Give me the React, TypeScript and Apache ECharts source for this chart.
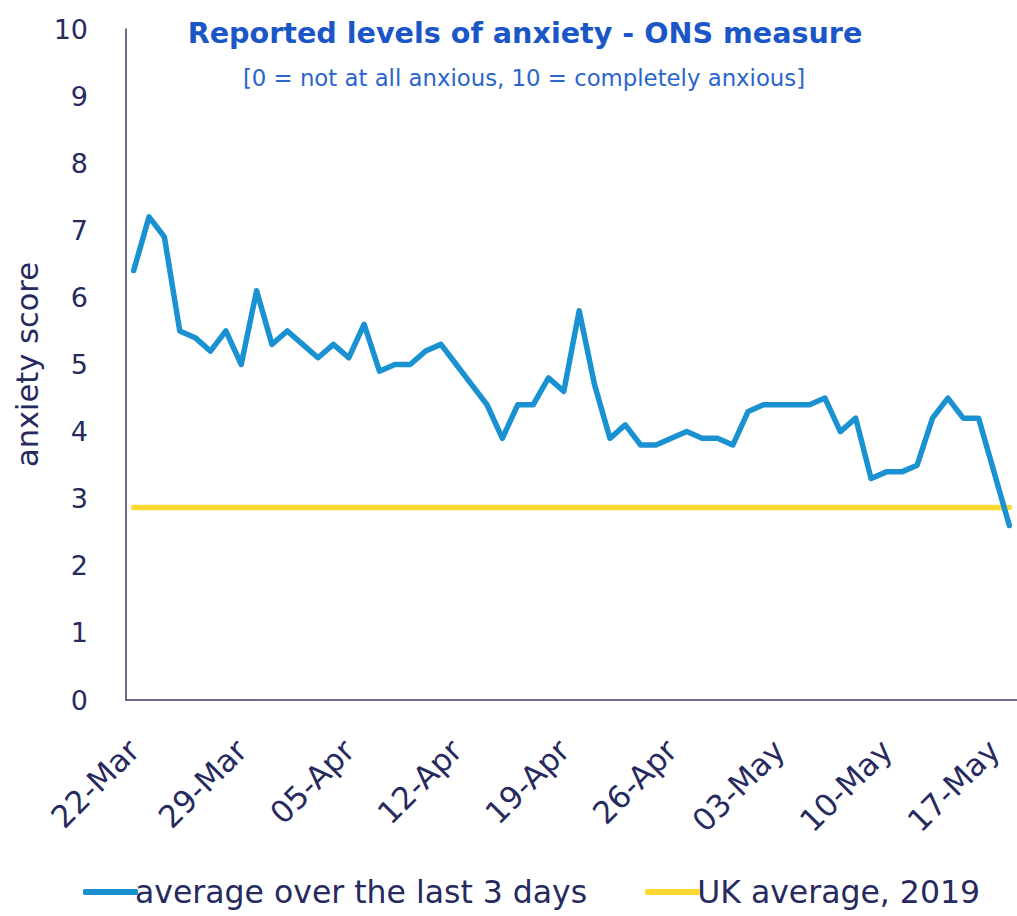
import React, { useEffect, useRef } from "react";
import * as echarts from "echarts";

const START_DATE = "2020-03-22";
const DAY_COUNT = 58;
const MONTHS = ["Jan", "Feb", "Mar", "Apr", "May", "Jun", "Jul", "Aug", "Sep", "Oct", "Nov", "Dec"];

const anxietyAvg3Days = [
  6.4, 7.2, 6.9, 5.5, 5.4, 5.2, 5.5, 5.0, 6.1, 5.3,
  5.5, 5.3, 5.1, 5.3, 5.1, 5.6, 4.9, 5.0, 5.0, 5.2,
  5.3, 5.0, 4.7, 4.4, 3.9, 4.4, 4.4, 4.8, 4.6, 5.8,
  4.7, 3.9, 4.1, 3.8, 3.8, 3.9, 4.0, 3.9, 3.9, 3.8,
  4.3, 4.4, 4.4, 4.4, 4.4, 4.5, 4.0, 4.2, 3.3, 3.4,
  3.4, 3.5, 4.2, 4.5, 4.2, 4.2, 3.4, 2.6,
];
const UK_AVERAGE_2019 = 2.87;

const TITLE = "Reported levels of anxiety - ONS measure";
const SUBTITLE = "[0 = not at all anxious, 10 = completely anxious]";
const SERIES_NAMES = ["average over the last 3 days", "UK average, 2019"];
const Y_NAME = "anxiety score";

function buildDates(): string[] {
  const out: string[] = [];
  const base = new Date(START_DATE + "T12:00:00Z");
  for (let i = 0; i < DAY_COUNT; i++) {
    const d = new Date(base.getTime() + i * 86400000);
    const dd = String(d.getUTCDate()).padStart(2, "0");
    out.push(dd + "-" + MONTHS[d.getUTCMonth()]);
  }
  return out;
}

const FONT = "'DejaVu Sans', sans-serif";
const NAVY = "#262a5e";

export default function App() {
  const ref = useRef<HTMLDivElement>(null);
  useEffect(() => {
    if (!ref.current) return;
    const chart = echarts.init(ref.current, undefined, { renderer: "svg" });
    const dates = buildDates();
    const ukLine = dates.map(() => UK_AVERAGE_2019);
    chart.setOption({
      animation: false,
      backgroundColor: "#ffffff",
      textStyle: { fontFamily: FONT },
      title: [
        {
          text: TITLE,
          left: 520,
          top: 13,
          textAlign: "center",
          textStyle: { fontFamily: FONT, fontSize: 28.6, fontWeight: "bold", color: "#1a56c6" },
        },
        {
          text: SUBTITLE,
          left: 519,
          top: 61,
          textAlign: "center",
          textStyle: { fontFamily: FONT, fontSize: 22.8, fontWeight: "normal", color: "#2a66cc" },
        },
      ],
      legend: {
        bottom: 3,
        left: 78,
        itemWidth: 55,
        itemHeight: 6,
        itemGap: 58,
        icon: "roundRect",
        textStyle: { fontFamily: FONT, fontSize: 31.5, color: NAVY, padding: [0, 0, 0, -8] },
        data: SERIES_NAMES,
      },
      grid: { left: 126, top: 29, width: 896, height: 671, containLabel: false },
      xAxis: {
        type: "category",
        data: dates,
        boundaryGap: true,
        axisLine: { show: true, lineStyle: { color: "#3a3d6a", width: 1.5 } },
        axisTick: { show: false },
        axisLabel: {
          interval: 6,
          rotate: 45,
          margin: 45,
          fontFamily: FONT,
          fontSize: 31,
          color: NAVY,
        },
        splitLine: { show: false },
      },
      yAxis: {
        type: "value",
        min: 0,
        max: 10,
        interval: 1,
        name: Y_NAME,
        nameLocation: "middle",
        nameRotate: 90,
        nameGap: 80,
        nameTextStyle: { fontFamily: FONT, fontSize: 30.5, color: NAVY },
        axisLine: { show: true, lineStyle: { color: "#3a3d6a", width: 1.5 } },
        axisTick: { show: false },
        axisLabel: { margin: 38, fontFamily: FONT, fontSize: 27, color: NAVY },
        splitLine: { show: false },
      },
      series: [
        {
          name: SERIES_NAMES[0],
          type: "line",
          data: anxietyAvg3Days,
          showSymbol: false,
          symbol: "none",
          color: "#1a92d2",
          lineStyle: { width: 5.5, color: "#1a92d2", cap: "round", join: "round" },
          z: 3,
        },
        {
          name: SERIES_NAMES[1],
          type: "line",
          data: ukLine,
          showSymbol: false,
          symbol: "none",
          color: "#fdd833",
          lineStyle: { width: 5.5, color: "#fdd833", cap: "round" },
          z: 2,
        },
      ],
    });
    return () => chart.dispose();
  }, []);
  return (
    <div
      ref={ref}
      style={{ position: "absolute", left: 0, top: 0, width: 1017, height: 916 }}
    />
  );
}
